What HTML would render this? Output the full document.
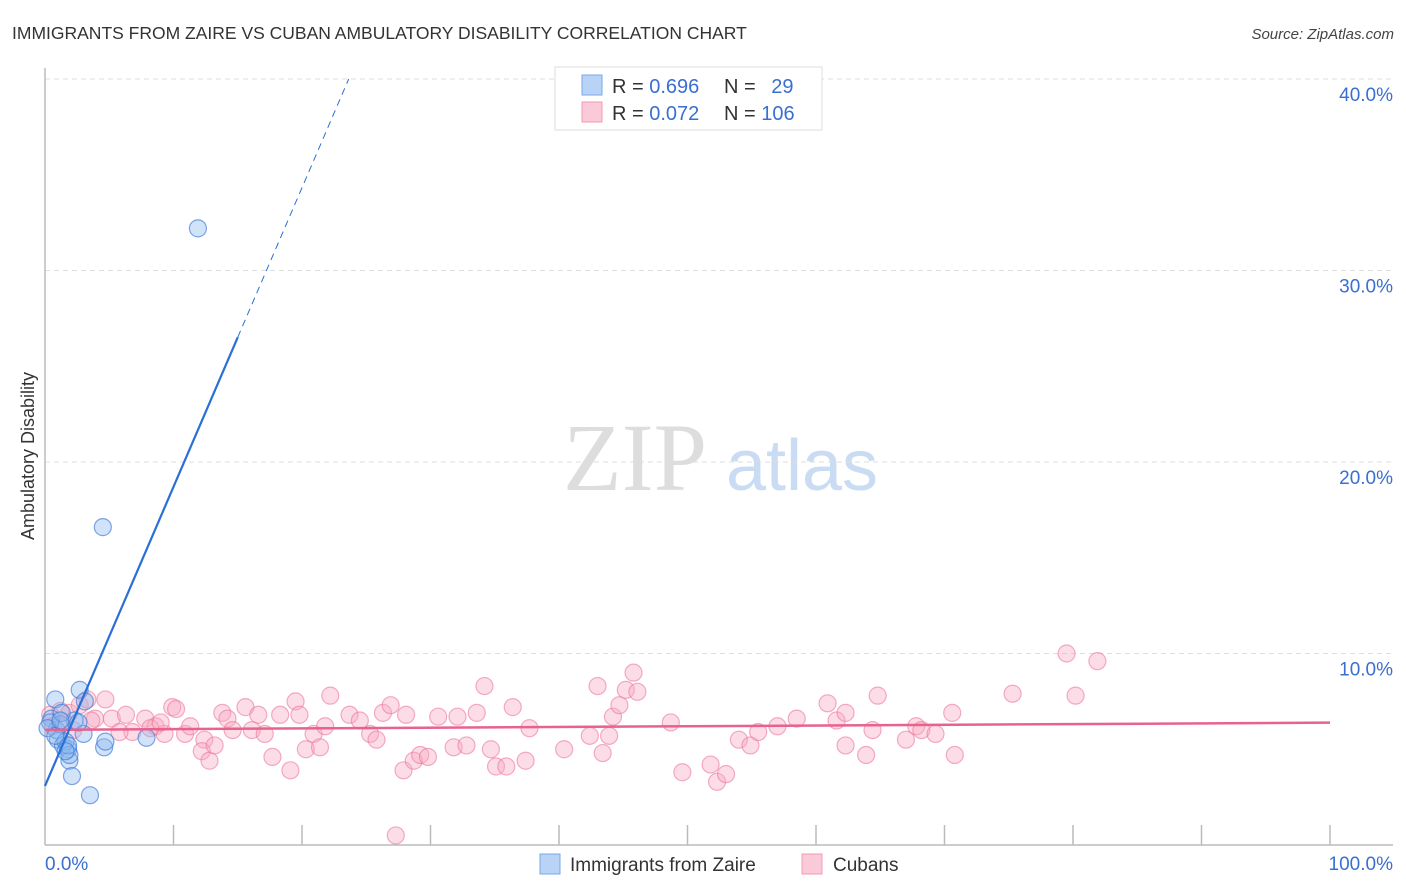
<!DOCTYPE html>
<html><head><meta charset="utf-8"><style>
body{margin:0;background:#fff;font-family:"Liberation Sans",sans-serif;}
#wrap{position:relative;width:1406px;height:892px;overflow:hidden;}
</style></head><body>
<div id="wrap">
<svg id="svg" width="1406" height="892">
<text x="12" y="39" font-size="17.5" fill="#333">IMMIGRANTS FROM ZAIRE VS CUBAN AMBULATORY DISABILITY CORRELATION CHART</text>
<text x="1394" y="39" font-size="15" fill="#444" font-style="italic" text-anchor="end">Source: ZipAtlas.com</text>
<text x="635" y="490" font-size="96" fill="#ddd" font-family="Liberation Serif,serif" text-anchor="middle">ZIP</text>
<text x="802" y="490" font-size="72" fill="#c9dcf3" text-anchor="middle">atlas</text>
<text x="34" y="456" font-size="18" fill="#333" text-anchor="middle" transform="rotate(-90 34 456)">Ambulatory Disability</text>
<g id="grid"></g><g id="pts"></g><g id="lines"></g>
<g>
<rect x="555" y="67" width="267" height="63" fill="#fff" stroke="#ddd"/>
<rect x="582" y="75" width="20" height="20" fill="#b8d3f5" stroke="#7aa8e8"/>
<rect x="582" y="102" width="20" height="20" fill="#fbcad8" stroke="#f09ab3"/>
<text x="612" y="93" font-size="20" fill="#333">R = <tspan fill="#3a6fd0">0.696</tspan></text>
<text x="724" y="93" font-size="20" fill="#333">N = <tspan fill="#3a6fd0" dx="10">29</tspan></text>
<text x="612" y="120" font-size="20" fill="#333">R = <tspan fill="#3a6fd0">0.072</tspan></text>
<text x="724" y="120" font-size="20" fill="#333">N = <tspan fill="#3a6fd0">106</tspan></text>
</g>
<g>
<rect x="540" y="854" width="20" height="20" fill="#b8d3f5" stroke="#7aa8e8"/>
<text x="570" y="871" font-size="19" fill="#333">Immigrants from Zaire</text>
<rect x="802" y="854" width="20" height="20" fill="#fbcad8" stroke="#f09ab3"/>
<text x="833" y="871" font-size="19" fill="#333">Cubans</text>
</g>
</svg>
</div>
<script>
const blueX=[0.8,0.5,1.0,1.4,1.8,1.9,2.1,3.5,2.7,3.1,2.3,3.0,4.5,11.9,4.6,4.7,7.9,0.9,1.2,1.6,0.4,0.2,1.3,1.9,2.6,1.8,0.8,1.2,1.6];
const blueY=[7.6,6.6,5.5,5.2,5.0,4.4,3.6,2.6,8.1,7.5,6.5,5.8,16.6,32.2,5.1,5.4,5.6,6.0,6.3,5.4,6.4,6.1,6.9,4.7,6.4,5.2,5.7,6.5,4.9];
const pinkX=[0.4,1.2,1.9,2.7,3.3,3.9,4.7,5.2,6.3,6.8,7.8,8.6,9.3,9.9,10.2,10.9,11.3,12.4,12.2,12.8,13.2,13.8,14.2,14.6,15.6,16.1,16.6,17.1,17.7,18.3,19.1,19.5,19.8,20.3,20.9,21.4,21.8,22.2,23.7,24.5,25.3,25.8,26.3,26.9,27.3,27.9,28.1,28.7,29.2,29.8,30.6,31.8,32.1,32.8,33.6,34.2,34.7,35.1,35.9,36.4,37.4,37.7,40.4,42.4,43.0,43.4,43.9,44.2,44.7,45.2,45.8,46.1,48.7,49.6,51.8,52.3,53.0,54.0,54.9,55.5,57.0,58.5,60.9,61.6,62.3,62.3,63.9,64.4,64.8,67.0,67.8,68.2,69.3,70.6,70.8,75.3,79.5,80.2,81.9,0.6,1.5,2.2,3.6,5.8,8.2,9.0];
const pinkY=[6.8,7.0,6.9,7.3,7.6,6.6,7.6,6.6,6.8,5.9,6.6,6.2,5.8,7.2,7.1,5.8,6.2,5.5,4.9,4.4,5.2,6.9,6.6,6.0,7.2,6.0,6.8,5.8,4.6,6.8,3.9,7.5,6.8,5.0,5.8,5.1,6.2,7.8,6.8,6.5,5.8,5.5,6.9,7.3,0.5,3.9,6.8,4.4,4.7,4.6,6.7,5.1,6.7,5.2,6.9,8.3,5.0,4.1,4.1,7.2,4.4,6.1,5.0,5.7,8.3,4.8,5.7,6.7,7.3,8.1,9.0,8.0,6.4,3.8,4.2,3.3,3.7,5.5,5.2,5.9,6.2,6.6,7.4,6.5,6.9,5.2,4.7,6.0,7.8,5.5,6.2,6.0,5.8,6.9,4.7,7.9,10.0,7.8,9.6,6.2,6.4,6.0,6.5,5.9,6.1,6.4];
const yTicks=[10,20,30,40];
const xTickLabels=["0.0%","100.0%"];
const NS="http://www.w3.org/2000/svg";
const X0=45,X1=1330,Y0=845,YS=19.15;
const sx=v=>X0+(X1-X0)*v/100, sy=v=>Y0-v*YS;
function mk(t,a,p){const e=document.createElementNS(NS,t);for(const k in a)e.setAttribute(k,a[k]);p.appendChild(e);return e;}
const grid=document.getElementById('grid');
yTicks.forEach(t=>{
 const l=mk('line',{x1:45,x2:1393,y1:sy(t),y2:sy(t),stroke:'#ddd','stroke-dasharray':'5,4'},grid);
 
 
 const tx=mk('text',{x:1393,y:sy(t)+22,'font-size':19,fill:'#3a6fd0','text-anchor':'end'},grid);tx.textContent=t.toFixed(1)+'%';
 
 
});
const ax=mk('line',{x1:45,x2:1393,y1:Y0,y2:Y0,stroke:'#bbb','stroke-width':1.5},grid);


const ay=mk('line',{x1:45,x2:45,y1:68,y2:Y0,stroke:'#bbb','stroke-width':1.5},grid);


for(let k=1;k<=10;k++){const t=mk('line',{x1:sx(k*10),x2:sx(k*10),y1:825,y2:Y0,stroke:'#bbb','stroke-width':1.5},grid);
 
 }
const l0=mk('text',{x:45,y:870,'font-size':19,fill:'#3a6fd0'},grid);l0.textContent=xTickLabels[0];


const l1=mk('text',{x:1393,y:870,'font-size':19,fill:'#3a6fd0','text-anchor':'end'},grid);l1.textContent=xTickLabels[1];


const pts=document.getElementById('pts');
pinkX.forEach((v,i)=>{const c=mk('circle',{cx:sx(v),cy:sy(pinkY[i]),r:8.5,fill:'rgba(248,170,195,0.4)',stroke:'rgba(236,120,155,0.6)','stroke-width':1.2},pts);
 
 });
blueX.forEach((v,i)=>{const c=mk('circle',{cx:sx(v),cy:sy(blueY[i]),r:8.5,fill:'rgba(140,185,240,0.4)',stroke:'rgba(60,120,215,0.65)','stroke-width':1.2},pts);
 
 });
function fit(xs,ys){const n=xs.length;let mx=0,my=0;xs.forEach((x,i)=>{mx+=x;my+=ys[i]});mx/=n;my/=n;let sxy=0,sxx=0;xs.forEach((x,i)=>{sxy+=(x-mx)*(ys[i]-my);sxx+=(x-mx)**2});const b=sxy/sxx;return[my-b*mx,b];}
const lines=document.getElementById('lines');
const [pa,pb]=fit(pinkX,pinkY);
const pl=mk('line',{x1:sx(0),y1:sy(pa),x2:sx(100),y2:sy(pa+pb*100),stroke:'#e8628e','stroke-width':2.5},lines);


const [ba,bb]=fit(blueX,blueY);
const xe=Math.min(100,(40-ba)/bb);
const bl=mk('line',{x1:sx(0),y1:sy(ba),x2:sx(15),y2:sy(ba+bb*15),stroke:'#2a6fd6','stroke-width':2.2},lines);


const bd=mk('line',{x1:sx(15),y1:sy(ba+bb*15),x2:sx(xe),y2:sy(ba+bb*xe),stroke:'#2a6fd6','stroke-width':1,'stroke-dasharray':'7,5'},lines);


</script>
</body></html>
